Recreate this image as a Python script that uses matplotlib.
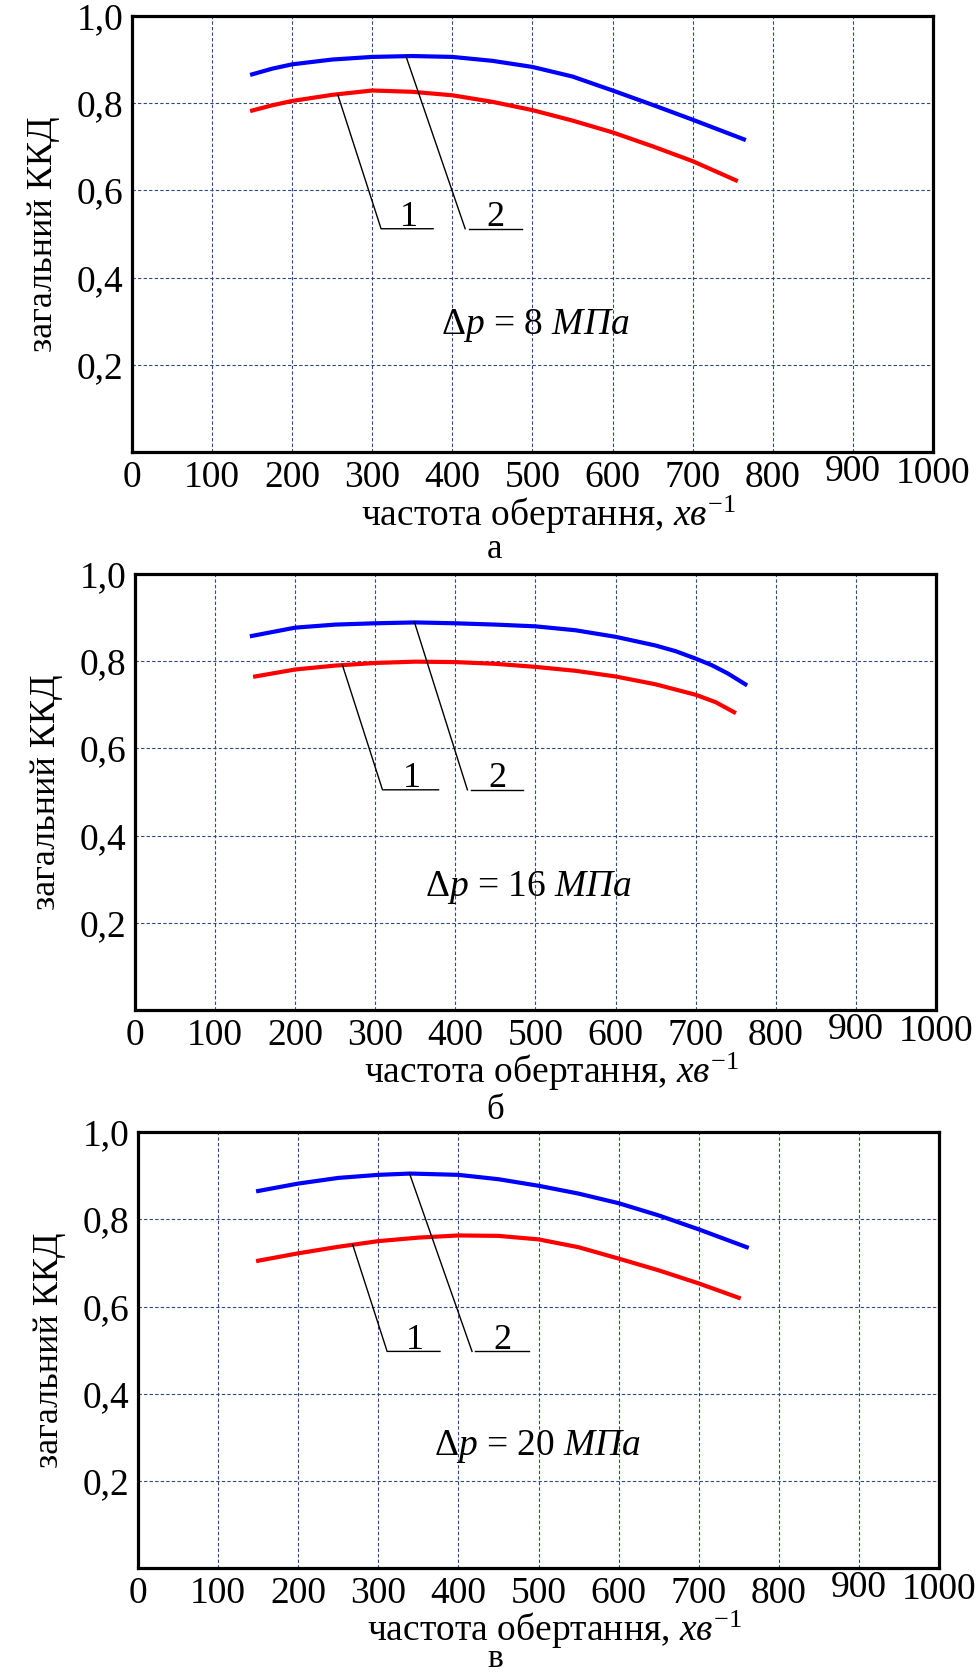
import matplotlib.pyplot as plt
from matplotlib.ticker import FixedLocator

plt.rcParams['font.family'] = ['Liberation Serif', 'DejaVu Serif']
plt.rcParams['mathtext.fontset'] = 'custom'
plt.rcParams['mathtext.rm'] = 'Liberation Serif'
plt.rcParams['mathtext.it'] = 'Liberation Serif:italic'

# --- data (rpm vs overall efficiency) ---
# panel a, dp = 8 MPa
rpm_a_blue = [150, 175, 200, 250, 300, 350, 400, 450, 500, 550, 600, 650, 700, 764]
eff_a_blue = [0.866, 0.879, 0.889, 0.900, 0.906, 0.908, 0.906, 0.897, 0.883, 0.861, 0.829, 0.796, 0.762, 0.717]
rpm_a_red = [150, 175, 200, 250, 300, 350, 400, 450, 500, 550, 600, 650, 700, 754]
eff_a_red = [0.783, 0.795, 0.805, 0.819, 0.829, 0.826, 0.818, 0.803, 0.784, 0.760, 0.733, 0.701, 0.667, 0.623]

# panel b, dp = 16 MPa
rpm_b_blue = [146, 200, 250, 300, 350, 400, 450, 500, 550, 600, 650, 675, 700, 720, 740, 762]
eff_b_blue = [0.858, 0.877, 0.884, 0.887, 0.889, 0.887, 0.884, 0.880, 0.871, 0.856, 0.836, 0.823, 0.806, 0.791, 0.772, 0.747]
rpm_b_red = [150, 200, 250, 300, 350, 400, 450, 500, 550, 600, 650, 700, 725, 748]
eff_b_red = [0.765, 0.781, 0.790, 0.796, 0.799, 0.798, 0.794, 0.787, 0.778, 0.765, 0.747, 0.723, 0.706, 0.683]

# panel c, dp = 20 MPa
rpm_c_blue = [150, 200, 250, 300, 340, 400, 450, 500, 550, 600, 650, 700, 760]
eff_c_blue = [0.865, 0.882, 0.895, 0.902, 0.905, 0.902, 0.892, 0.877, 0.859, 0.837, 0.809, 0.777, 0.736]
rpm_c_red = [150, 200, 250, 300, 350, 400, 450, 500, 550, 600, 650, 700, 750]
eff_c_red = [0.705, 0.722, 0.737, 0.750, 0.758, 0.763, 0.762, 0.754, 0.736, 0.710, 0.683, 0.653, 0.620]

x_ticks = [0, 100, 200, 300, 400, 500, 600, 700, 800, 900, 1000]
y_ticks = [0.2, 0.4, 0.6, 0.8, 1.0]
y_ticklabels = ['0,2', '0,4', '0,6', '0,8', '1,0']

pressures = ['8', '16', '20']
panel_letters = ['а', 'б', 'в']

# leader lines: start on curve 1 / curve 2, knee, end of shelf (rpm, eff)
leader1 = [[(257, 0.819), (311, 0.512), (376, 0.512)],
           [(259, 0.791), (309, 0.505), (379, 0.505)],
           [(268, 0.742), (311, 0.497), (377, 0.497)]]
leader2 = [[(342, 0.908), (416, 0.512)],
           [(349, 0.889), (415, 0.505)],
           [(339, 0.905), (417, 0.497)]]
shelf2 = [(421, 487), (419, 485), (421, 488)]
label_dp_pos = [(503, 0.29), (492, 0.28), (499, 0.28)]

panels = [
    (rpm_a_blue, eff_a_blue, rpm_a_red, eff_a_red),
    (rpm_b_blue, eff_b_blue, rpm_b_red, eff_b_red),
    (rpm_c_blue, eff_c_blue, rpm_c_red, eff_c_red),
]

fig = plt.figure(figsize=(9.76, 16.76), dpi=100)
rects = [[0.1352, 0.7303, 0.8207, 0.2602],
         [0.1383, 0.3974, 0.8207, 0.2601],
         [0.1414, 0.0644, 0.8207, 0.2601]]
letter_y = [0.667, 0.3325, 0.0055]
letter_size = [25, 25, 24]
xlabel_y = [-0.095, -0.095, -0.093]

grid_kw = dict(color='#2b4a80', linewidth=0.8, linestyle=(0, (3, 2)))

for i, (xb, yb, xr, yr) in enumerate(panels):
    ax = fig.add_axes(rects[i])
    ax.set_xlim(0, 1000)
    ax.set_ylim(0, 1.0)
    ax.xaxis.set_major_locator(FixedLocator(x_ticks))
    ax.set_xticklabels([str(t) for t in x_ticks])
    ax.yaxis.set_major_locator(FixedLocator(y_ticks))
    ax.set_yticklabels(y_ticklabels)
    ax.tick_params(length=0, labelsize=27, pad=6)
    ax.grid(True, **grid_kw)
    for s in ax.spines.values():
        s.set_linewidth(2.3)
    ticks = ax.xaxis.get_major_ticks()
    ticks[9].set_pad(2)
    ticks[10].set_pad(3)

    ax.plot(xb, yb, color='#0000ff', linewidth=3, solid_joinstyle='round', zorder=3)
    ax.plot(xr, yr, color='#ff0000', linewidth=3, solid_joinstyle='round', zorder=3)

    l1 = leader1[i]
    ax.plot([p[0] for p in l1], [p[1] for p in l1], color='black', linewidth=1.0, zorder=4)
    l2 = leader2[i]
    ax.plot([p[0] for p in l2], [p[1] for p in l2], color='black', linewidth=1.0, zorder=4)
    ax.plot(shelf2[i], [l2[1][1], l2[1][1]], color='black', linewidth=1.0, zorder=4)
    ax.text((l1[1][0] + l1[2][0]) / 2 + 2, l1[2][1] - 0.012, '1', fontsize=26,
            ha='center', va='bottom')
    ax.text((shelf2[i][0] + shelf2[i][1]) / 2, l2[1][1] - 0.012, '2', fontsize=26,
            ha='center', va='bottom')

    dx, dy = label_dp_pos[i]
    ax.text(dx, dy, 'Δ$\\mathit{p}$ = ' + pressures[i] + ' $\\mathit{МПа}$', fontsize=27,
            ha='center', va='center')

    ax.set_ylabel('загальний ККД', fontsize=26, labelpad=12)
    ax.set_xlabel('частота обертання, $\\mathit{хв}^{\\mathrm{-1}}$', fontsize=27, labelpad=-4)
    ax.xaxis.set_label_coords(0.52, xlabel_y[i])

    fig.text(0.507, letter_y[i], panel_letters[i], fontsize=letter_size[i],
             ha='center', va='baseline')

fig.savefig('out.png', dpi=100)
